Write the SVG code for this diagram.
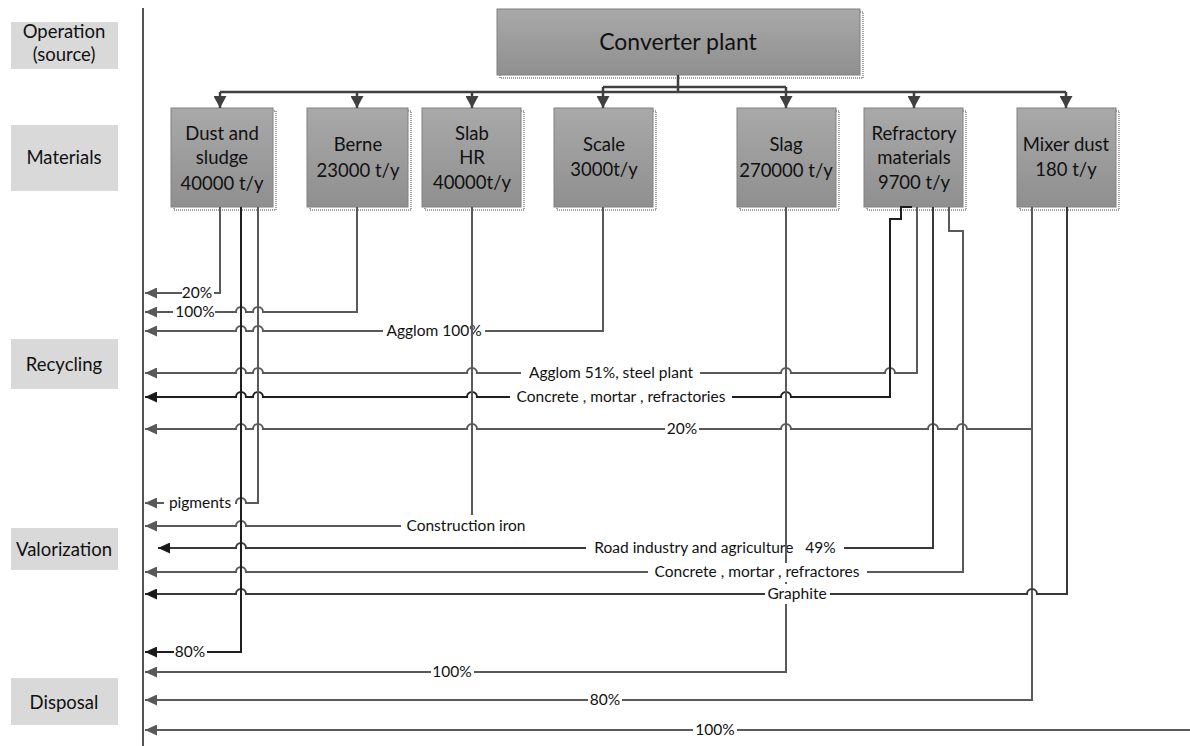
<svg xmlns="http://www.w3.org/2000/svg" width="1190" height="746" viewBox="0 0 1190 746">
<defs>
<linearGradient id="boxg" x1="0" y1="0" x2="0" y2="1">
<stop offset="0" stop-color="#a9a9a9"/>
<stop offset="1" stop-color="#8f8f8f"/>
</linearGradient>
<marker id="aG" markerUnits="userSpaceOnUse" viewBox="0 0 12 11" refX="12" refY="5.5" markerWidth="12" markerHeight="11" orient="auto"><path d="M0,0 L12,5.5 L0,11 z" fill="#595959"/></marker>
<marker id="aK" markerUnits="userSpaceOnUse" viewBox="0 0 12 11" refX="12" refY="5.5" markerWidth="12" markerHeight="11" orient="auto"><path d="M0,0 L12,5.5 L0,11 z" fill="#1a1a1a"/></marker>
<marker id="aD" markerUnits="userSpaceOnUse" viewBox="0 0 12 13" refX="12" refY="6.5" markerWidth="12" markerHeight="13" orient="auto"><path d="M0,0 L12,6.5 L0,13 z" fill="#404040"/></marker>
</defs>
<style>
.lab{fill:#d9d9d9}
.lt{font-family:Lato,"Liberation Sans",sans-serif;font-size:18.5px;fill:#111;text-anchor:middle}
.box{fill:url(#boxg);stroke:#808080;stroke-width:1}
.sh{fill:#fff;stroke:#444;stroke-width:1;stroke-dasharray:1 1}
.bt{font-family:Lato,"Liberation Sans",sans-serif;font-size:18.5px;fill:#111;text-anchor:middle}
.ct{font-family:Lato,"Liberation Sans",sans-serif;font-size:23px;fill:#111;text-anchor:middle}
.c{fill:none;stroke:#5a5a5a;stroke-width:2}
.k{fill:none;stroke:#1e1e1e;stroke-width:2}
.d{fill:none;stroke:#383838;stroke-width:2}
.top{fill:none;stroke:#404040;stroke-width:2.5}
.bg{fill:#fff}
.t{font-family:Lato,"Liberation Sans",sans-serif;font-size:15.5px;fill:#111;text-anchor:middle}
</style>
<rect width="1190" height="746" fill="#fff"/>

<g id="axis">
<line x1="143" y1="8" x2="143" y2="746" stroke="#555" stroke-width="2"/>
</g>

<g id="lab-operation"><rect class="lab" x="11" y="22" width="107" height="47"/><text class="lt" x="64" y="38">Operation</text><text class="lt" x="64" y="61">(source)</text></g>
<g id="lab-materials"><rect class="lab" x="11" y="125" width="107" height="66"/><text class="lt" x="64" y="164">Materials</text></g>
<g id="lab-recycling"><rect class="lab" x="11" y="339" width="107" height="50"/><text class="lt" x="64" y="371">Recycling</text></g>
<g id="lab-valorization"><rect class="lab" x="11" y="528" width="107" height="42"/><text class="lt" x="64" y="556">Valorization</text></g>
<g id="lab-disposal"><rect class="lab" x="11" y="678" width="107" height="47"/><text class="lt" x="64" y="709">Disposal</text></g>

<g id="converter"><rect class="sh" x="500" y="12" width="363" height="66"/><rect class="box" x="497" y="9" width="363" height="66"/><text class="ct" x="678" y="50">Converter plant</text></g>

<g id="dust"><rect class="sh" x="174" y="111" width="102" height="99"/><rect class="box" x="171" y="108" width="102" height="99"/><text class="bt" x="222" y="140">Dust and</text><text class="bt" x="222" y="164">sludge</text><text class="bt" x="222" y="190">40000 t/y</text></g>
<g id="berne"><rect class="sh" x="310" y="111" width="101" height="99"/><rect class="box" x="307" y="108" width="101" height="99"/><text class="bt" x="358" y="151">Berne</text><text class="bt" x="358" y="177">23000 t/y</text></g>
<g id="slab"><rect class="sh" x="425" y="111" width="99" height="99"/><rect class="box" x="422" y="108" width="99" height="99"/><text class="bt" x="472" y="140">Slab</text><text class="bt" x="472" y="164">HR</text><text class="bt" x="472" y="189">40000t/y</text></g>
<g id="scale"><rect class="sh" x="557" y="111" width="99" height="99"/><rect class="box" x="554" y="108" width="99" height="99"/><text class="bt" x="604" y="151">Scale</text><text class="bt" x="604" y="176">3000t/y</text></g>
<g id="slag"><rect class="sh" x="740" y="111" width="99" height="99"/><rect class="box" x="737" y="108" width="99" height="99"/><text class="bt" x="786" y="151">Slag</text><text class="bt" x="786" y="177">270000 t/y</text></g>
<g id="refractory"><rect class="sh" x="867" y="111" width="99" height="99"/><rect class="box" x="864" y="108" width="99" height="99"/><text class="bt" x="914" y="140">Refractory</text><text class="bt" x="914" y="164">materials</text><text class="bt" x="914" y="189">9700 t/y</text></g>
<g id="mixer"><rect class="sh" x="1020" y="111" width="99" height="99"/><rect class="box" x="1017" y="108" width="99" height="99"/><text class="bt" x="1066" y="151">Mixer dust</text><text class="bt" x="1066" y="176">180 t/y</text></g>

<g id="connectors">
<path class="top" d="M678,75 V92 M220,92 H1066 M603,87 H786"/>
<path class="top" d="M220,92 V108" marker-end="url(#aD)"/>
<path class="top" d="M357,92 V108" marker-end="url(#aD)"/>
<path class="top" d="M472,92 V108" marker-end="url(#aD)"/>
<path class="top" d="M603,87 V108" marker-end="url(#aD)"/>
<path class="top" d="M786,87 V108" marker-end="url(#aD)"/>
<path class="top" d="M914,92 V108" marker-end="url(#aD)"/>
<path class="top" d="M1066,92 V108" marker-end="url(#aD)"/>

<path class="c" d="M220,207 V293 H145" marker-end="url(#aG)"/>
<rect class="bg" x="182" y="284" width="32" height="18"/><text class="t" x="197" y="298">20%</text>

<path class="c" d="M357,207 V312 H263 A5,5 0 0 0 253,312 H246 A5,5 0 0 0 236,312 H145" marker-end="url(#aG)"/>
<rect class="bg" x="173" y="303" width="42" height="18"/><text class="t" x="195" y="317">100%</text>

<path class="c" d="M603,207 V331 H263 A5,5 0 0 0 253,331 H246 A5,5 0 0 0 236,331 H145" marker-end="url(#aG)"/>
<rect class="bg" x="383" y="322" width="102" height="18"/><text class="t" x="434" y="336">Agglom 100%</text>

<path class="c" d="M917,207 V373 H895 A5,5 0 0 0 885,373 H791 A5,5 0 0 0 781,373 H477 A5,5 0 0 0 467,373 H263 A5,5 0 0 0 253,373 H246 A5,5 0 0 0 236,373 H145" marker-end="url(#aG)"/>
<rect class="bg" x="521" y="364" width="179" height="18"/><text class="t" x="611" y="378">Agglom 51%, steel plant</text>

<path class="k" d="M912,207 H901 V219 H890 V397 H791 A5,5 0 0 0 781,397 H477 A5,5 0 0 0 467,397 H263 A5,5 0 0 0 253,397 H246 A5,5 0 0 0 236,397 H145" marker-end="url(#aK)"/>
<rect class="bg" x="510" y="388" width="222" height="18"/><text class="t" x="621" y="402">Concrete , mortar , refractories</text>

<path class="c" d="M1032,429 H967 A5,5 0 0 0 957,429 H938 A5,5 0 0 0 928,429 H791 A5,5 0 0 0 781,429 H477 A5,5 0 0 0 467,429 H263 A5,5 0 0 0 253,429 H246 A5,5 0 0 0 236,429 H145" marker-end="url(#aG)"/>
<rect class="bg" x="665" y="420" width="34" height="18"/><text class="t" x="682" y="434">20%</text>

<path class="c" d="M1032,207 V700 H145" marker-end="url(#aG)"/>
<rect class="bg" x="588" y="691" width="34" height="18"/><text class="t" x="605" y="705">80%</text>

<path class="c" d="M258,207 V503 H246 A5,5 0 0 0 236,503 H145" marker-end="url(#aG)"/>
<rect class="bg" x="164" y="494" width="71" height="18"/><text class="t" x="200" y="508">pigments</text>

<path class="c" d="M472,207 V526 H246 A5,5 0 0 0 236,526 H145" marker-end="url(#aG)"/>
<rect class="bg" x="401" y="515" width="130" height="20"/><text class="t" x="466" y="531">Construction iron</text>

<path class="d" d="M933,207 V548 H246 A5,5 0 0 0 236,548 H158" marker-end="url(#aK)"/>
<rect class="bg" x="586" y="539" width="258" height="18"/><text class="t" x="715" y="553">Road industry and agriculture <tspan dx="8">49%</tspan></text>

<path class="c" d="M786,207 V672 H145" marker-end="url(#aG)"/>
<rect class="bg" x="431" y="663" width="43" height="18"/><text class="t" x="452" y="677">100%</text>

<path class="c" stroke="#4a4a4a" d="M949,207 V231 H963 V572 H246 A5,5 0 0 0 236,572 H145" marker-end="url(#aG)"/>
<rect class="bg" x="648" y="563" width="219" height="19"/><text class="t" x="757" y="577">Concrete , mortar , refractores</text>

<path class="d" d="M1067,207 V594 H1037 A5,5 0 0 0 1027,594 H246 A5,5 0 0 0 236,594 H145" marker-end="url(#aK)"/>
<rect class="bg" x="765" y="584" width="65" height="20"/><text class="t" x="797" y="599">Graphite</text>

<path class="k" d="M241,207 V652 H145" marker-end="url(#aK)"/>
<rect class="bg" x="174" y="643" width="33" height="18"/><text class="t" x="190" y="657">80%</text>

<path class="c" d="M1190,730 H145" marker-end="url(#aG)"/>
<rect class="bg" x="693" y="721" width="44" height="18"/><text class="t" x="715" y="735">100%</text>
</g>
</svg>
